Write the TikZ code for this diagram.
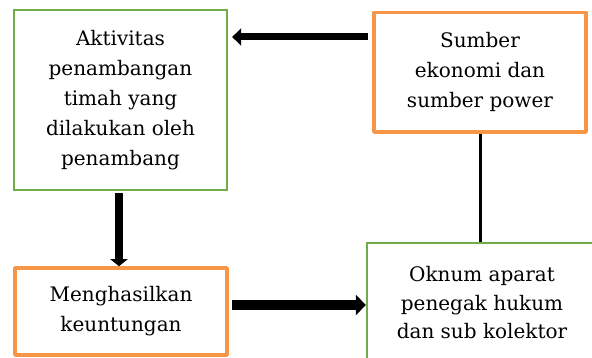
\documentclass[tikz,border=0pt]{standalone}
\usepackage{fontspec}
\setmainfont{DejaVu Serif}
\usetikzlibrary{arrows.meta}
\definecolor{boxgreen}{HTML}{70AD47}
\definecolor{boxorange}{HTML}{F79646}
\begin{document}
\begin{tikzpicture}[x=1pt,y=-1pt,
  every node/.style={inner sep=0pt, align=center, font=\fontsize{20}{30}\selectfont},
  greenbox/.style={draw=boxgreen, line width=2.3pt, fill=white},
  orangebox/.style={draw=boxorange, line width=3.6pt, line join=round, fill=white},
  fatarrow/.style={draw=black, line width=#1}
]
\useasboundingbox (0,0) rectangle (592,358);
\clip (0,0) rectangle (592,358);
\fill[white] (0,0) rectangle (592,358);

\node[greenbox, minimum width=213pt, minimum height=180pt] (akt) at (120.5,100)
  {Aktivitas\\penambangan\\timah yang\\dilakukan oleh\\penambang};
\node[orangebox, minimum width=212pt, minimum height=119.5pt] (sum) at (480,72.2)
  {Sumber\\ekonomi dan\\sumber power};
\node[orangebox, minimum width=212pt, minimum height=87pt] (meng) at (121,311.5)
  {Menghasilkan\\keuntungan};
\node[greenbox, minimum width=230pt, minimum height=120pt,
  font=\fontsize{20}{28.5}\selectfont] (okn) at (482,303)
  {Oknum aparat\\penegak hukum\\dan sub kolektor};

% top arrow: Sumber -> Aktivitas
\draw[line width=7pt, -{Triangle[length=9pt,width=17pt]}]
  ([xshift=-4pt,yshift=35.2pt]sum.west) -- ([xshift=4pt,yshift=63pt]akt.east);
% vertical arrow: Aktivitas -> Menghasilkan
\draw[line width=8pt, -{Triangle[length=7pt,width=17pt]}]
  ([xshift=-1.5pt,yshift=-2pt]akt.south) -- ([xshift=-2pt]meng.north);
% horizontal arrow: Menghasilkan -> Oknum
\draw[line width=10pt, -{Triangle[length=10pt,width=20pt]}]
  ([xshift=3pt,yshift=6.5pt]meng.east) -- ([yshift=-2pt]okn.west);
% plain line: Sumber -- Oknum
\draw[line width=3pt] (sum.south) -- (okn.north -| sum.south);
\end{tikzpicture}
\end{document}
